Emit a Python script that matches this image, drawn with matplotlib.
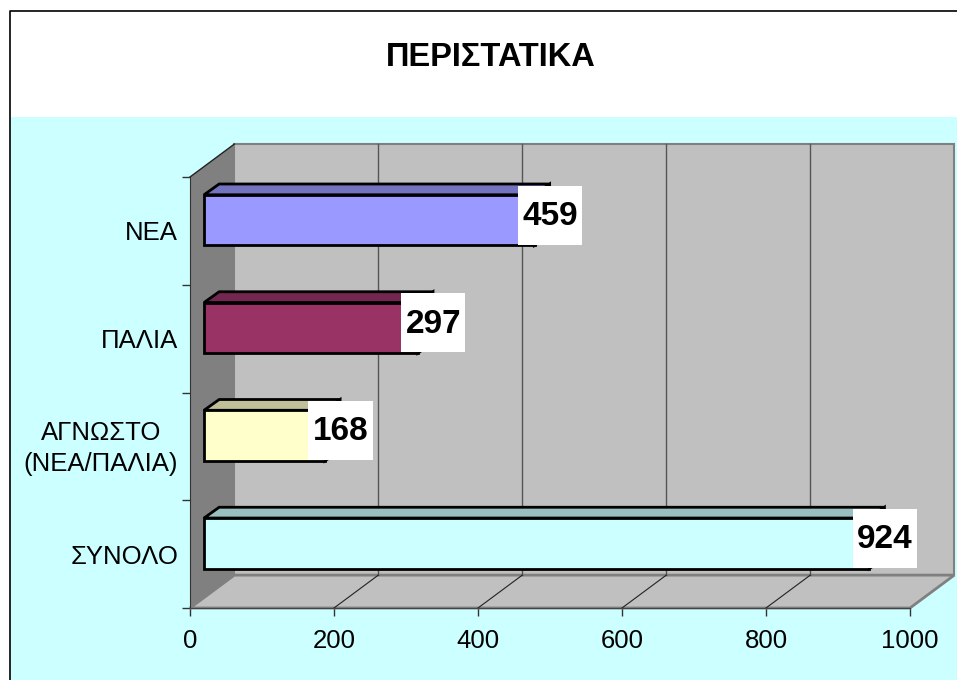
import matplotlib
matplotlib.use('Agg')
import matplotlib.pyplot as plt
from matplotlib.patches import Polygon, Rectangle
from matplotlib.transforms import ScaledTranslation

plt.rcParams['font.family'] = ['Liberation Sans', 'DejaVu Sans']

categories = ['ΣΥΝΟΛΟ', 'ΑΓΝΩΣΤΟ\n(ΝΕΑ/ΠΑΛΙΑ)', 'ΠΑΛΙΑ', 'ΝΕΑ']
values = [924, 168, 297, 459]
colors = ['#CCFFFF', '#FFFFCC', '#993366', '#9999FF']
top_colors = ['#99BFBF', '#BFBF99', '#732650', '#7373BF']
side_colors = ['#668080', '#808066', '#4D1A33', '#4D4D80']
xticks = [0, 200, 400, 600, 800, 1000]

W, H = 957, 680
fig = plt.figure(figsize=(W / 100, H / 100), dpi=100, facecolor='white')

# outer chart area, in pixels from the top left
bg = fig.add_axes([0, 0, 1, 1])
bg.set_xlim(0, W)
bg.set_ylim(H, 0)
bg.axis('off')
bg.add_patch(Rectangle((10.5, 117), W, H, fc='#CCFFFF', ec='none'))
bg.plot([9.5, 9.5, W], [H, 10.5, 10.5], color='black', lw=1.2)
bg.text(491, 57, 'ΠΕΡΙΣΤΑΤΙΚΑ', fontsize=23.5, fontweight='bold', ha='center', va='center')

ax = fig.add_axes([190 / W, (H - 608) / H, 720 / W, 431 / H])
ax.set_xlim(0, 1000)
ax.set_ylim(0, 4)
ax.patch.set_visible(False)

# depth of the 3d box and of the bars, in data units
dx, dy = 61.5, 0.305
bar_dx, bar_dy = 21, 0.1
off_x, off_y = 19.5, 0.1
bar_h = 0.47
# white value box, in data units
box_w, box_h = 89, 0.546
box_dx, box_dy = 21.5, 0.046

ax.add_patch(Rectangle((dx, dy), 1000, 4, fc='#C0C0C0', ec='#808080', lw=1.5, clip_on=False, zorder=1))
ax.add_patch(Polygon([(0, 0), (0, 4), (dx, 4 + dy), (dx, dy)], fc='#808080', ec='none', clip_on=False, zorder=1))
ax.plot([0, dx], [4, 4 + dy], color='#222222', lw=1, clip_on=False, zorder=2)
ax.add_patch(Polygon([(0, 0), (1000, 0), (1000 + dx, dy), (dx, dy)], fc='#C0C0C0', ec='#808080', lw=2,
                     clip_on=False, zorder=2))
for t in xticks[1:-1]:
    ax.plot([t + dx, t + dx], [dy, 4 + dy], color='#555555', lw=1, clip_on=False, zorder=2)
    ax.plot([t, t + dx], [0, dy], color='#222222', lw=0.8, clip_on=False, zorder=3)

for i, (v, c, tc, sc) in enumerate(zip(values, colors, top_colors, side_colors)):
    yc = i + 0.5 + off_y
    y0 = yc - bar_h / 2
    y1 = yc + bar_h / 2
    x0 = off_x
    x1 = off_x + v
    ax.add_patch(Polygon([(x0, y1), (x1, y1), (x1 + bar_dx, y1 + bar_dy), (x0 + bar_dx, y1 + bar_dy)],
                         fc=tc, ec='black', lw=2, clip_on=False, zorder=4))
    ax.add_patch(Polygon([(x1, y0), (x1, y1), (x1 + bar_dx, y1 + bar_dy), (x1 + bar_dx, y0 + bar_dy)],
                         fc=sc, ec='black', lw=2, clip_on=False, zorder=4))
    ax.barh(yc, v, left=off_x, height=bar_h, color=c, edgecolor='black', lw=2, zorder=5, clip_on=False)
    ax.add_patch(Rectangle((x1 + box_dx - box_w / 2, yc + box_dy - box_h / 2), box_w, box_h, fc='white', ec='none',
                           clip_on=False, zorder=6))
    ax.text(x1 + box_dx, yc + box_dy - 0.012, str(v), ha='center', va='center', fontsize=24, fontweight='bold',
            zorder=7, clip_on=False)

ax.set_xticks(xticks)
ax.set_yticks(range(5))
ax.set_yticklabels([])
ax.set_yticks([i + 0.5 for i in range(4)], labels=categories, minor=True, multialignment='center', linespacing=1.35)
ax.tick_params(axis='x', which='major', length=6, width=1, color='#333333', labelsize=18.5, pad=9)
ax.tick_params(axis='y', which='major', length=6, width=1, color='#333333')
ax.tick_params(axis='y', which='minor', length=0, labelsize=18.5, pad=8.5)
# the two line label sits a little higher
lab = ax.get_yticklabels(minor=True)[1]
lab.set_transform(lab.get_transform() + ScaledTranslation(0, 0.04, fig.dpi_scale_trans))
for s in ['top', 'right']:
    ax.spines[s].set_visible(False)
ax.spines['left'].set_color('#333333')
ax.spines['bottom'].set_color('#444444')
ax.spines['bottom'].set_zorder(3)
ax.spines['left'].set_zorder(3)

fig.savefig('out.png', dpi=100)
